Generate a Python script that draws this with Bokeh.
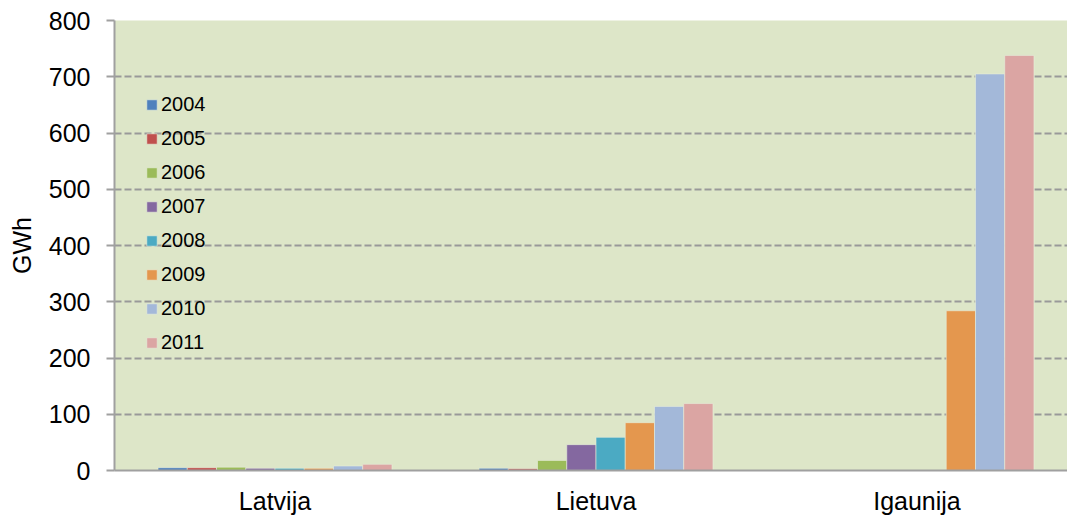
from bokeh.plotting import figure
from bokeh.models import ColumnDataSource, Range1d, FixedTicker, Legend, LegendItem
from bokeh.transform import dodge
from bokeh.embed import file_html
from bokeh.resources import INLINE

countries = ["Latvija", "Lietuva", "Igaunija"]
years = ["2004", "2005", "2006", "2007", "2008", "2009", "2010", "2011"]
v2004 = [5, 4, 0]
v2005 = [5, 3, 0]
v2006 = [6, 18, 0]
v2007 = [4, 46, 0]
v2008 = [4, 59, 0]
v2009 = [4, 85, 284]
v2010 = [8, 114, 705]
v2011 = [11, 119, 738]
series = [v2004, v2005, v2006, v2007, v2008, v2009, v2010, v2011]
colors = ["#4F81BD", "#C0504D", "#9BBB59", "#8468A0", "#4BAAC3", "#E4974E", "#A3B8D9", "#DBA5A3"]
y_ticks = [0, 100, 200, 300, 400, 500, 600, 700, 800]

FONT = "Liberation Sans"

data = {"x": [0.5 + i for i in range(len(countries))]}
for yr, vals in zip(years, series):
    data["y" + yr] = vals
src = ColumnDataSource(data)

p = figure(width=1067, height=517, output_backend="svg", toolbar_location=None,
           x_range=Range1d(0, 953 / 321), y_range=Range1d(0, 800),
           min_border_left=114, min_border_right=0, min_border_top=20, min_border_bottom=47)
p.background_fill_color = "#DDE6C8"
p.border_fill_color = "white"
p.outline_line_color = None

bw = 0.0911
items = []
for i, (yr, col) in enumerate(zip(years, colors)):
    r = p.vbar(x=dodge("x", (i - 3.5) * bw, range=p.x_range), top="y" + yr, width=bw,
               source=src, fill_color=col, line_color="#E8EEDC", line_width=0.6)
    items.append(LegendItem(label=yr, renderers=[r]))

legend = Legend(items=items, location=(31, 116), padding=0, margin=0,
                glyph_width=13, glyph_height=13, label_height=20, spacing=11,
                label_standoff=3, label_text_font=FONT, label_text_font_size="20px",
                label_text_color="black", border_line_color=None,
                background_fill_alpha=0)
p.add_layout(legend)

p.xgrid.grid_line_color = None
p.ygrid.grid_line_color = "#999999"
p.ygrid.grid_line_width = 2
p.ygrid.grid_line_dash = "7 3"
p.ygrid.ticker = FixedTicker(ticks=y_ticks)

p.yaxis.ticker = FixedTicker(ticks=y_ticks)
p.yaxis.axis_line_color = "#A0A0A0"
p.yaxis.axis_line_width = 2
p.yaxis.major_tick_line_color = "#A0A0A0"
p.yaxis.major_tick_line_width = 2
p.yaxis.major_tick_out = 8
p.yaxis.major_tick_in = 0
p.yaxis.minor_tick_line_color = None
p.yaxis.major_label_standoff = 16
p.yaxis.major_label_text_font = FONT
p.yaxis.major_label_text_font_size = "25px"
p.yaxis.major_label_text_color = "black"
p.yaxis.axis_label = "GWh"
p.yaxis.axis_label_text_font = FONT
p.yaxis.axis_label_text_font_size = "25px"
p.yaxis.axis_label_text_font_style = "normal"
p.yaxis.axis_label_text_color = "black"
p.yaxis.axis_label_standoff = 10

p.xaxis.ticker = FixedTicker(ticks=data["x"])
p.xaxis.major_label_overrides = {0.5 + i: c for i, c in enumerate(countries)}
p.xaxis.axis_line_color = "#A0A0A0"
p.xaxis.axis_line_width = 2
p.xaxis.major_tick_line_color = None
p.xaxis.minor_tick_line_color = None
p.xaxis.major_tick_out = 0
p.xaxis.major_tick_in = 0
p.xaxis.major_label_standoff = 16
p.xaxis.major_label_text_font = FONT
p.xaxis.major_label_text_font_size = "25px"
p.xaxis.major_label_text_color = "black"

open("out.html", "w").write(file_html(p, INLINE))
